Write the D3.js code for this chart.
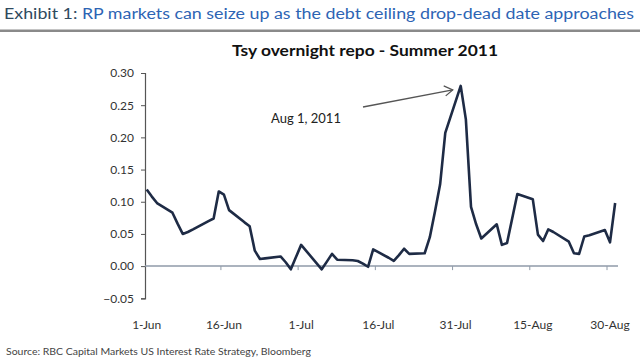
<!DOCTYPE html>
<html>
<head>
<meta charset="utf-8">
<script src="https://cdn.jsdelivr.net/npm/d3@7"></script>
<style>
  body { margin: 0; background: #fff; }
  text { font-family: Lato, "Open Sans", sans-serif; }
</style>
</head>
<body>
<div id="canvas"></div>
<script>
"use strict"

/* Data: business days, overnight repo rate (%) */
let dates = [
    "2011-06-01", "2011-06-02", "2011-06-03", "2011-06-06", "2011-06-07", "2011-06-08",
    "2011-06-09", "2011-06-10", "2011-06-13", "2011-06-14", "2011-06-15", "2011-06-16",
    "2011-06-17", "2011-06-20", "2011-06-21", "2011-06-22", "2011-06-23", "2011-06-24",
    "2011-06-27", "2011-06-28", "2011-06-29", "2011-06-30", "2011-07-01", "2011-07-05",
    "2011-07-06", "2011-07-07", "2011-07-08", "2011-07-11", "2011-07-12", "2011-07-13",
    "2011-07-14", "2011-07-15", "2011-07-18", "2011-07-19", "2011-07-20", "2011-07-21",
    "2011-07-22", "2011-07-25", "2011-07-26", "2011-07-27", "2011-07-28", "2011-07-29",
    "2011-08-01", "2011-08-02", "2011-08-03", "2011-08-04", "2011-08-05", "2011-08-08",
    "2011-08-09", "2011-08-10", "2011-08-11", "2011-08-12", "2011-08-15", "2011-08-16",
    "2011-08-17", "2011-08-18", "2011-08-19", "2011-08-22", "2011-08-23", "2011-08-24",
    "2011-08-25", "2011-08-26", "2011-08-29", "2011-08-30", "2011-08-31"
];
let rates = [
    0.119, 0.108, 0.098, 0.083, 0.066, 0.050,
    0.053, 0.057, 0.070, 0.074, 0.116, 0.111,
    0.087, 0.068, 0.062, 0.024, 0.011, 0.012,
    0.015, 0.006, -0.005, 0.014, 0.033, -0.005,
    0.007, 0.019, 0.010, 0.009, 0.008, 0.004,
    -0.001, 0.026, 0.013, 0.008, 0.017, 0.027,
    0.019, 0.020, 0.045, 0.085, 0.127, 0.207,
    0.280, 0.228, 0.092, 0.065, 0.043, 0.065,
    0.033, 0.036, 0.074, 0.112, 0.104, 0.049,
    0.039, 0.057, 0.053, 0.038, 0.020, 0.019,
    0.046, 0.048, 0.056, 0.037, 0.098
];
let yTicks = [-0.05, 0, 0.05, 0.10, 0.15, 0.20, 0.25, 0.30];
let xTicks = ["2011-06-01", "2011-06-16", "2011-07-01", "2011-07-16", "2011-07-31", "2011-08-15", "2011-08-30"];

let parse = d3.timeParse("%Y-%m-%d");
let dataset = dates.map((d, i) => ({ date: parse(d), rate: rates[i] }));

/* Drawing configuration */
let svgWidth = 640;
let svgHeight = 362;

let svg = d3.select("#canvas")
    .append("svg")
    .attr("width", svgWidth)
    .attr("height", svgHeight);

/* Exhibit heading */
let heading = svg.append("text")
    .attr("x", 4)
    .attr("y", 19)
    .attr("font-size", 15.5)
    .attr("textLength", 630)
    .attr("lengthAdjust", "spacingAndGlyphs");
heading.append("tspan").attr("fill", "#2f4a5e").text("Exhibit 1: ");
heading.append("tspan").attr("fill", "#2d64b4").text("RP markets can seize up as the debt ceiling drop-dead date approaches");

svg.append("rect")
    .attr("x", 0)
    .attr("y", 29.5)
    .attr("width", svgWidth)
    .attr("height", 2.5)
    .attr("fill", "#8a8a8a");

/* Scales */
let xScale = d3.scaleTime()
    .domain([parse("2011-06-01"), parse("2011-08-30")])
    .range([146.7, 610]);

let yScale = d3.scaleLinear()
    .domain([-0.05, 0.30])
    .range([298.3, 73]);

let x0 = 145;

/* Chart title */
svg.append("text")
    .attr("x", 365)
    .attr("y", 56)
    .attr("text-anchor", "middle")
    .attr("font-size", 16)
    .attr("font-weight", "bold")
    .attr("fill", "#111")
    .attr("textLength", 266)
    .attr("lengthAdjust", "spacingAndGlyphs")
    .text("Tsy overnight repo - Summer 2011");

/* Y axis */
let yAxis = d3.axisLeft(yScale)
    .tickValues(yTicks)
    .tickFormat(d3.format(".2f"))
    .tickSize(4)
    .tickPadding(7);

let yAxisG = svg.append("g")
    .attr("transform", `translate(${x0},0)`)
    .call(yAxis);
yAxisG.select(".domain").attr("stroke", "#555").attr("stroke-width", 1.2);
yAxisG.selectAll(".tick line").attr("stroke", "#555");
yAxisG.selectAll(".tick text")
    .attr("font-size", 12)
    .attr("fill", "#333")
    .attr("font-family", "Lato, sans-serif");

/* X axis at zero line */
svg.append("line")
    .attr("x1", x0)
    .attr("x2", 618)
    .attr("y1", yScale(0))
    .attr("y2", yScale(0))
    .attr("stroke", "#8f9aa8")
    .attr("stroke-width", 1.5);

svg.selectAll(".xtick")
    .data(xTicks.slice(1))
    .join("line")
    .attr("class", "xtick")
    .attr("x1", d => xScale(parse(d)) - 3)
    .attr("x2", d => xScale(parse(d)) - 3)
    .attr("y1", yScale(0))
    .attr("y2", yScale(0) + 4)
    .attr("stroke", "#8f9aa8");

let labelFormat = d3.timeFormat("%-d-%b");
svg.selectAll(".xlabel")
    .data(xTicks)
    .join("text")
    .attr("class", "xlabel")
    .attr("x", d => xScale(parse(d)))
    .attr("y", 329)
    .attr("text-anchor", "middle")
    .attr("font-size", 12)
    .attr("fill", "#333")
    .text(d => labelFormat(parse(d)));

/* Rate line */
let line = d3.line()
    .x(d => xScale(d.date))
    .y(d => yScale(d.rate));

svg.append("path")
    .datum(dataset)
    .attr("fill", "none")
    .attr("stroke", "#1e2b45")
    .attr("stroke-width", 2.6)
    .attr("stroke-linejoin", "round")
    .attr("d", line);

/* Annotation */
let peak = dataset.find(d => +d.date === +parse("2011-08-01"));
let ax = xScale(peak.date) - 8;
let ay = yScale(peak.rate) + 4;

svg.append("text")
    .attr("x", 271)
    .attr("y", 123)
    .attr("font-size", 13)
    .attr("fill", "#222")
    .text("Aug 1, 2011");

svg.append("line")
    .attr("x1", 363)
    .attr("y1", 107)
    .attr("x2", ax)
    .attr("y2", ay)
    .attr("stroke", "#555")
    .attr("stroke-width", 1.3);

svg.append("path")
    .attr("d", `M${ax - 9},${ay - 4} L${ax},${ay} L${ax - 7},${ay + 6}`)
    .attr("fill", "none")
    .attr("stroke", "#555")
    .attr("stroke-width", 1.3);

/* Source */
svg.append("text")
    .attr("x", 6)
    .attr("y", 355)
    .attr("font-size", 9.5)
    .attr("fill", "#444")
    .attr("textLength", 305)
    .attr("lengthAdjust", "spacingAndGlyphs")
    .text("Source: RBC Capital Markets US Interest Rate Strategy, Bloomberg");
</script>
</body>
</html>
